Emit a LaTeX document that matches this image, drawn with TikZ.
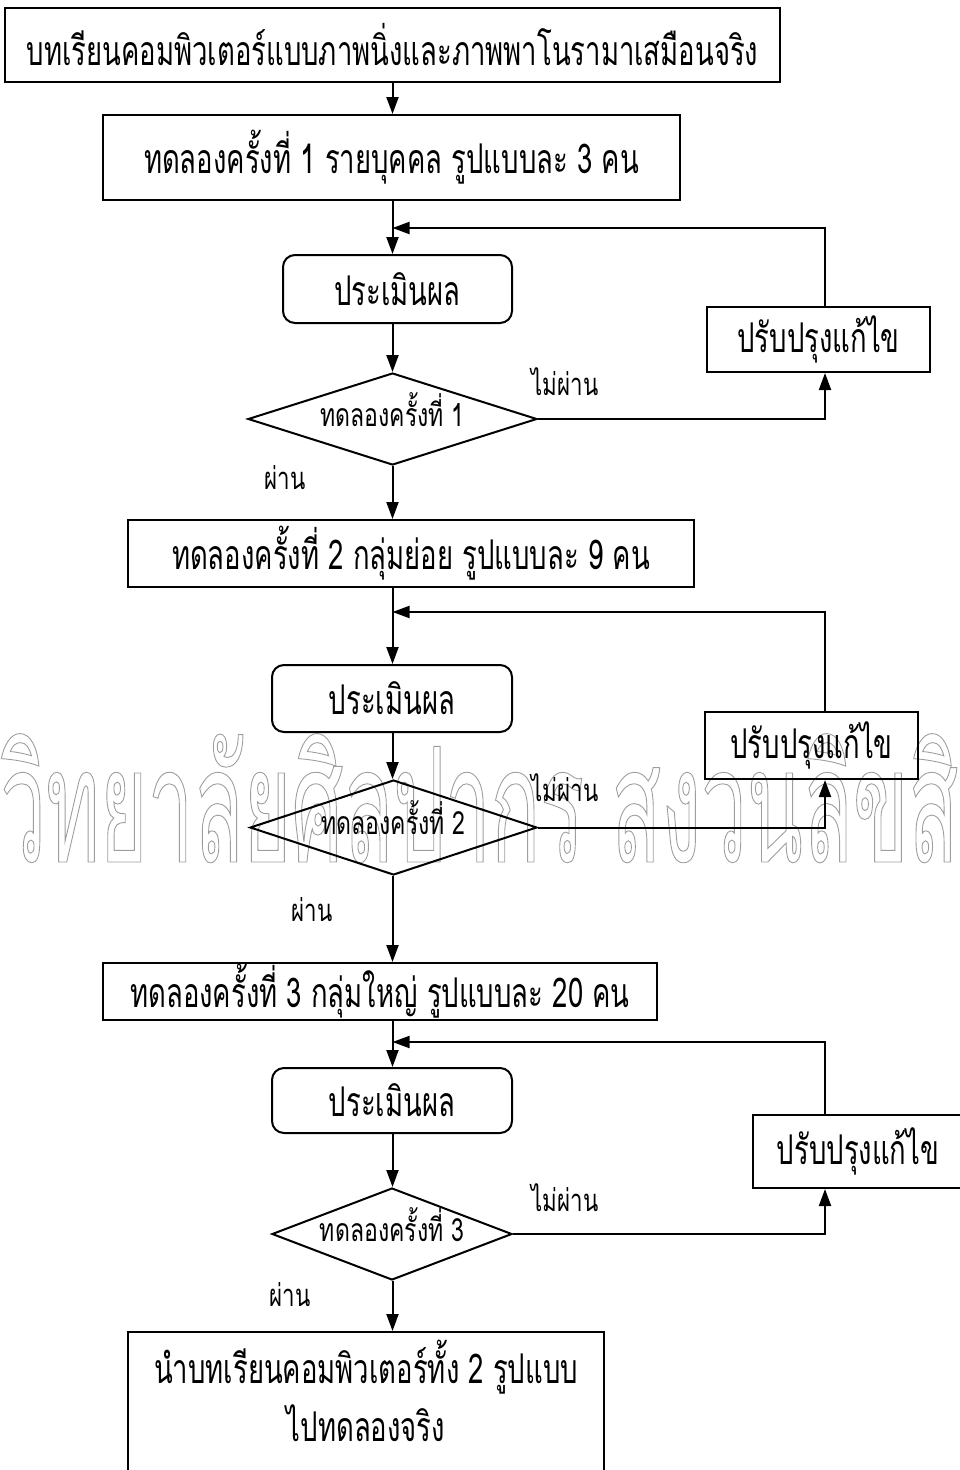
\documentclass[tikz,border=0pt]{standalone}
\usepackage{fontspec}
\usetikzlibrary{shapes.geometric,arrows.meta}
\newfontfamily\thai[Script=Thai,FakeStretch=0.67]{Loma}
\newfontfamily\thais[Script=Thai,FakeStretch=0.72]{Loma}
\newfontfamily\thaiwm[Script=Thai,FakeStretch=0.51]{Loma}
\begin{document}
\begin{tikzpicture}[x=1pt,y=-1pt,
  every node/.style={font=\thai\fontsize{41}{43}\selectfont},
  box/.style={draw,line width=2pt,inner sep=0pt},
  evalbox/.style={box,rounded corners=12pt},
  dec/.style={draw,line width=2pt,diamond,inner sep=0pt,text height=20pt,text depth=6pt,font=\thais\fontsize{32}{34}\selectfont},
  lab/.style={font=\thais\fontsize{31}{33}\selectfont},
  arr/.style={line width=2pt,-{Triangle[length=17pt,width=12pt]}},
  ln/.style={line width=2pt}]
\useasboundingbox (0,0) rectangle (960,1470);
% watermark
\node[anchor=base west,inner sep=0pt,text=black!38,font=\thaiwm\fontsize{160}{160}\selectfont] (wm) at (0,862)
  {\special{pdf:literal direct 1 Tr 0.9 w}วิทยาลัยศิลปากร สงวนลิขสิทธิ์\special{pdf:literal direct 0 Tr 0.4 w}};
% stage 1
\node[box,minimum width=775pt,minimum height=74pt] (b1) at (392.5,45) {บทเรียนคอมพิวเตอร์แบบภาพนิ่งและภาพพาโนรามาเสมือนจริง};
\node[box,minimum width=577pt,minimum height=85pt] (b2) at (391.5,157.5) {ทดลองครั้งที่ 1 รายบุคคล รูปแบบละ 3 คน};
\node[evalbox,minimum width=229pt,minimum height=68pt] (e1) at (397.5,289) {ประเมินผล};
\node[dec,minimum width=289pt,minimum height=92pt,shape aspect=3.14] (d1) at (392.5,419) {ทดลองครั้งที่ 1};
\node[box,minimum width=223pt,minimum height=65pt] (f1) at (818.5,339.5) {ปรับปรุงแก้ไข};
\coordinate (c1) at (825,300);
\coordinate (j1) at (392.5,228);
\node[lab] (n1) at (565,382) {ไม่ผ่าน};
\node[lab] (p1) at (285,478) {ผ่าน};
% stage 2
\node[box,minimum width=566pt,minimum height=67pt] (b3) at (411,553.5) {ทดลองครั้งที่ 2 กลุ่มย่อย รูปแบบละ 9 คน};
\node[evalbox,minimum width=240pt,minimum height=67pt] (e2) at (392,698.5) {ประเมินผล};
\node[dec,minimum width=287pt,minimum height=95pt,shape aspect=3.0] (d2) at (393.5,827.5) {ทดลองครั้งที่ 2};
\node[box,minimum width=213pt,minimum height=67pt] (f2) at (811.5,745.5) {ปรับปรุงแก้ไข};
\coordinate (j2) at (392.5,612);
\node[lab] (n2) at (565,788) {ไม่ผ่าน};
\node[lab] (p2) at (312,910) {ผ่าน};
% stage 3
\node[box,minimum width=554pt,minimum height=57pt] (b4) at (380,991.5) {ทดลองครั้งที่ 3 กลุ่มใหญ่ รูปแบบละ 20 คน};
\node[evalbox,minimum width=240pt,minimum height=65pt] (e3) at (392,1100.5) {ประเมินผล};
\node[dec,minimum width=240pt,minimum height=92pt,shape aspect=2.6] (d3) at (392,1234) {ทดลองครั้งที่ 3};
\node[box,minimum width=210pt,minimum height=73pt] (f3) at (858,1151.5) {ปรับปรุงแก้ไข};
\coordinate (j3) at (392.5,1042);
\node[lab] (n3) at (565,1198) {ไม่ผ่าน};
\node[lab] (p3) at (290,1295) {ผ่าน};
% final
\node[box,minimum width=476pt,minimum height=140pt,align=center,text depth=22pt,font=\thai\fontsize{41}{58}\selectfont] (fin) at (366,1402) {นำบทเรียนคอมพิวเตอร์ทั้ง 2 รูปแบบ\\ไปทดลองจริง};
% connectors
\draw[arr] (b1.south -| j1) -- (b2.north -| j1);
\draw[arr] (b2.south -| j1) -- (e1.north -| j1);
\draw[arr] (e1.south -| j1) -- (d1.north);
\draw[arr] (d1.east) -| (f1.south -| c1);
\draw[arr] (f1.north -| c1) |- (j1);
\draw[arr] (d1.south) -- (b3.north -| d1.south);
\draw[arr] (b3.south -| j2) -- (e2.north -| j2);
\draw[arr] (e2.south -| j2) -- (d2.north -| j2);
\draw[arr] (d2.east) -| (f2.south -| c1);
\draw[arr] (f2.north -| c1) |- (j2);
\draw[arr] (d2.south -| j2) -- (b4.north -| j2);
\draw[arr] (b4.south -| j3) -- (e3.north -| j3);
\draw[arr] (e3.south -| j3) -- (d3.north -| j3);
\draw[arr] (d3.east) -| (f3.south -| c1);
\draw[arr] (f3.north -| c1) |- (j3);
\draw[arr] (d3.south -| j3) -- (fin.north -| j3);
\end{tikzpicture}
\end{document}
